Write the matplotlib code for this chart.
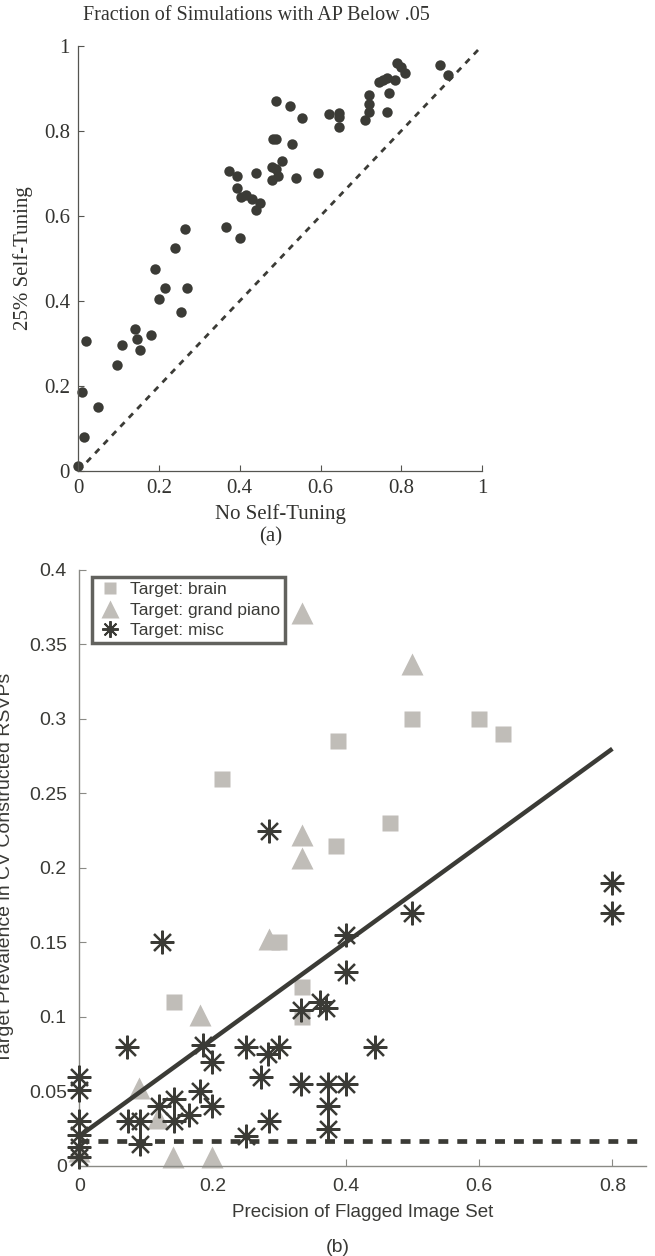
import matplotlib
matplotlib.use('Agg')
import matplotlib.pyplot as plt
from matplotlib.lines import Line2D

dark = '#3b3b36'
grey = '#c0bdb8'

# (a) fraction of simulations with AP below .05
no_tune = [0.489, 0.524, 0.554, 0.481, 0.489, 0.530, 0.504, 0.479, 0.489, 0.495,
           0.479, 0.539, 0.594, 0.374, 0.394, 0.440, 0.394, 0.404, 0.415, 0.429,
           0.450, 0.440, 0.365, 0.400, 0.264, 0.239, 0.190, 0.215, 0.200, 0.269,
           0.255, 0.620, 0.645, 0.645, 0.645, 0.710, 0.720, 0.720, 0.720, 0.765,
           0.770, 0.745, 0.755, 0.765, 0.785, 0.790, 0.800, 0.810, 0.895, 0.915,
           0.140, 0.019, 0.109, 0.145, 0.179, 0.154, 0.095, 0.009, 0.050, 0.014,
           0.000]
self_tune = [0.870, 0.859, 0.829, 0.780, 0.780, 0.770, 0.730, 0.715, 0.709, 0.694,
             0.684, 0.690, 0.700, 0.705, 0.694, 0.700, 0.665, 0.645, 0.650, 0.640,
             0.629, 0.614, 0.574, 0.549, 0.569, 0.524, 0.475, 0.430, 0.405, 0.430,
             0.375, 0.839, 0.841, 0.833, 0.810, 0.825, 0.884, 0.864, 0.844, 0.844,
             0.889, 0.914, 0.919, 0.925, 0.919, 0.960, 0.949, 0.935, 0.955, 0.930,
             0.335, 0.305, 0.296, 0.310, 0.320, 0.285, 0.250, 0.185, 0.150, 0.081,
             0.012]

# (b) target prevalence vs precision of flagged set
brain_x = [0.214, 0.500, 0.600, 0.636, 0.389, 0.467, 0.386, 0.300, 0.142, 0.334, 0.334]
brain_y = [0.260, 0.300, 0.300, 0.290, 0.285, 0.230, 0.215, 0.150, 0.110, 0.120, 0.100]
piano_x = [0.334, 0.500, 0.334, 0.334, 0.285, 0.181, 0.090, 0.141, 0.199, 0.118, 0.0]
piano_y = [0.371, 0.337, 0.222, 0.207, 0.152, 0.101, 0.052, 0.006, 0.006, 0.032, 0.01]
misc_x = [0.285, 0.800, 0.800, 0.500, 0.400, 0.400, 0.444, 0.400,
          0.124, 0.071, 0.186, 0.199, 0.250, 0.283, 0.300, 0.272,
          0.332, 0.362, 0.370, 0.332, 0.374, 0.374, 0.374, 0.285, 0.250,
          0.181, 0.199, 0.165, 0.142, 0.120, 0.142, 0.073, 0.091, 0.091,
          0.0, 0.0, 0.0, 0.0, 0.0, 0.0]
misc_y = [0.225, 0.190, 0.170, 0.170, 0.155, 0.130, 0.080, 0.055,
          0.150, 0.080, 0.081, 0.070, 0.080, 0.075, 0.080, 0.060,
          0.105, 0.110, 0.106, 0.055, 0.055, 0.040, 0.025, 0.030, 0.020,
          0.050, 0.040, 0.034, 0.045, 0.040, 0.030, 0.030, 0.030, 0.015,
          0.060, 0.051, 0.030, 0.021, 0.013, 0.006]
fit_x = [0.0, 0.8]
fit_y = [0.02, 0.28]
chance_x = [0.0, 0.84]
chance_y = 0.0165

fig = plt.figure(figsize=(6.55, 12.56), dpi=100)

# ---- top panel (serif, MATLAB-ish)
serif = 'Liberation Serif'
ax1 = fig.add_axes([0.1195, 0.625, 0.6165, 0.3386])
ax1.plot([0, 1], [0, 1], color=dark, lw=2, ls=(0, (2.2, 2.2)))
ax1.plot(no_tune, self_tune, 'o', color=dark, ms=7.5, mec='none', clip_on=False)
ax1.set_xlim(0, 1)
ax1.set_ylim(0, 1)
ax1.set_xticks([0, 0.2, 0.4, 0.6, 0.8, 1])
ax1.set_xticklabels(['0', '0.2', '0.4', '0.6', '0.8', '1'])
ax1.set_yticks([0, 0.2, 0.4, 0.6, 0.8, 1])
ax1.set_yticklabels(['0', '0.2', '0.4', '0.6', '0.8', '1'])
for s in ['top', 'right']:
    ax1.spines[s].set_visible(False)
for s in ['left', 'bottom']:
    ax1.spines[s].set_color('#555550')
    ax1.spines[s].set_linewidth(0.9)
ax1.tick_params(direction='in', length=4, width=0.8, color='#555550', labelcolor='#333330',
                labelsize=15, pad=6)
for lab in ax1.get_xticklabels() + ax1.get_yticklabels():
    lab.set_family(serif)
ax1.set_xlabel('No Self-Tuning', family=serif, fontsize=15, color='#333330', labelpad=4)
ax1.set_ylabel('25% Self-Tuning', family=serif, fontsize=15, color='#333330', labelpad=8)
fig.text(83 / 655, 1 - 16 / 1256, 'Fraction of Simulations with AP Below .05', family=serif,
         fontsize=14.5, color='#333330', ha='left', va='center')
fig.text(271 / 655, 1 - 537 / 1256, '(a)', family=serif, fontsize=15, color='#333330',
         ha='center', va='center')

# ---- bottom panel (sans)
sans = 'Liberation Sans'
ax2 = fig.add_axes([0.121, 0.0717, 0.8648, 0.4745])
ax2.plot(brain_x, brain_y, 's', color=grey, ms=12, mec='none', clip_on=False, zorder=2)
ax2.plot(piano_x, piano_y, '^', color=grey, ms=16, mec='none', clip_on=False, zorder=2)
ax2.plot(misc_x, misc_y, ls='none', marker=(8, 2, 0), ms=17, mec=dark, mew=1.6,
         clip_on=False, zorder=3)
ax2.plot(fit_x, fit_y, color=dark, lw=3.2, solid_capstyle='butt', zorder=4)
ax2.plot(chance_x, [chance_y, chance_y], color=dark, lw=3.4, ls=(0, (2.1, 1.9)),
         dash_capstyle='butt', zorder=4)
ax2.set_xlim(0, 0.85)
ax2.set_ylim(0, 0.4)
ax2.set_xticks([0, 0.2, 0.4, 0.6, 0.8])
ax2.set_xticklabels(['0', '0.2', '0.4', '0.6', '0.8'])
ax2.set_yticks([0, 0.05, 0.1, 0.15, 0.2, 0.25, 0.3, 0.35, 0.4])
ax2.set_yticklabels(['0', '0.05', '0.1', '0.15', '0.2', '0.25', '0.3', '0.35', '0.4'])
for s in ['top', 'right']:
    ax2.spines[s].set_visible(False)
for s in ['left', 'bottom']:
    ax2.spines[s].set_color('#8a8a85')
    ax2.spines[s].set_linewidth(1)
ax2.tick_params(direction='in', length=5, width=0.8, color='#8a8a85', labelcolor='#3a3a36',
                labelsize=14, pad=9)
for lab in ax2.get_xticklabels() + ax2.get_yticklabels():
    lab.set_family(sans)
ax2.set_xlabel('Precision of Flagged Image Set', family=sans, fontsize=13.5, color='#3a3a36',
               labelpad=6)
fig.text(6 / 655, 1 - 868 / 1256, 'Target Prevalence in CV Constructed RSVPs', family=sans,
         fontsize=14, color='#3a3a36', rotation=90, ha='center', va='center')
fig.text(338 / 655, 1 - 1247 / 1256, '(b)', family=sans, fontsize=14, color='#3a3a36',
         ha='center', va='center')

handles = [
    Line2D([], [], ls='none', marker='s', color=grey, ms=9, mec='none'),
    Line2D([], [], ls='none', marker='^', color=grey, ms=13, mec='none'),
    Line2D([], [], ls='none', marker=(8, 2, 0), ms=12, mec=dark, mew=1.4),
]
leg = ax2.legend(handles, ['Target: brain', 'Target: grand piano', 'Target: misc'],
                 loc='upper left', bbox_to_anchor=(0.023, 0.988), frameon=True, fancybox=False,
                 prop={'family': sans, 'size': 12.5}, handlelength=1.4, handletextpad=0.45,
                 borderpad=0.3, labelspacing=0.3, borderaxespad=0)
leg.get_frame().set_edgecolor(dark)
leg.get_frame().set_linewidth(2.5)
for t in leg.get_texts():
    t.set_color('#3a3a36')

fig.savefig('out.png', dpi=100)
